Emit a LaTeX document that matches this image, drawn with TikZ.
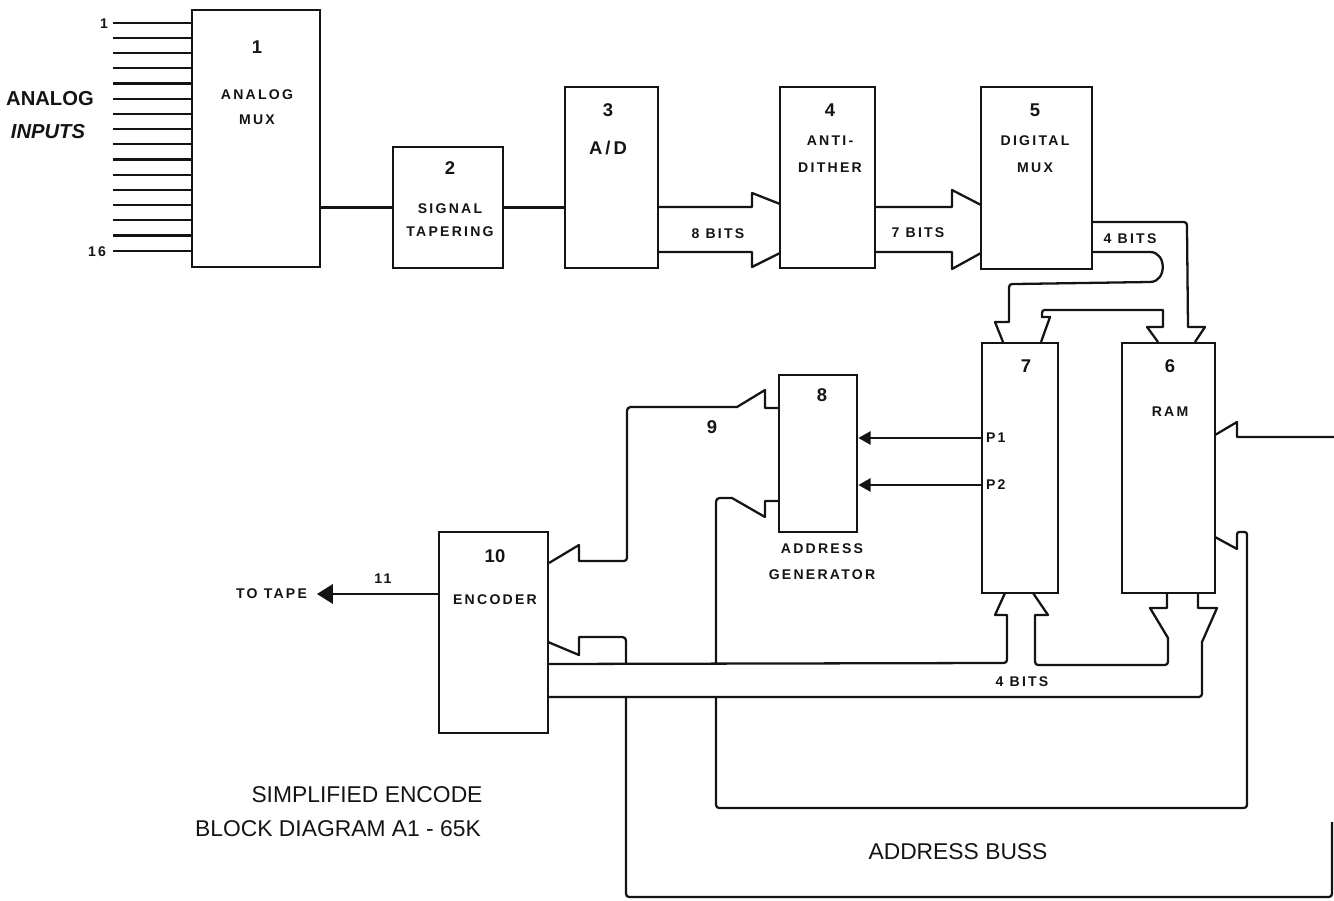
\documentclass[tikz,border=0pt]{standalone}
\usepackage{fontspec}
\setmainfont{Liberation Sans}
\newfontfamily\widefont{Liberation Sans}[LetterSpace=16]
\usepackage{tikz}
\usetikzlibrary{arrows.meta,calc,fit}
\usepackage{xcolor}
\definecolor{inkblack}{HTML}{141414}

\begin{document}
\begin{tikzpicture}[x=0.02cm, y=-0.02cm, inkblack,
          box/.style={draw=inkblack,line width=1.5pt,inner sep=0pt},
          num/.style={font=\fontsize{10.5}{11}\selectfont\bfseries},
          lbl/.style={font=\widefont\fontsize{8}{9}\selectfont\bfseries,inner sep=1pt},
          side/.style={font=\fontsize{11.5}{13}\selectfont\bfseries},
          caption/.style={font=\fontsize{13}{15}\selectfont},
          wire/.style={line width=1.3pt},
          bus/.style={line width=1.3pt,line join=round},
          ptr/.style={wire,-{Triangle[length=7pt,width=7.5pt]}},
          tapearr/.style={wire,-{Triangle[length=9pt,width=11pt]}}]
        \useasboundingbox (0,0) rectangle (1334,901);
        \node[box,fit={(192,10) (320,267)}] (mux) {};
        \node[box,fit={(393,147) (503,268)}] (taper) {};
        \node[box,fit={(565,87) (658,268)}] (adc) {};
        \node[box,fit={(780,87) (875,268)}] (anti) {};
        \node[box,fit={(981,87) (1092,269)}] (dmux) {};
        \node[box,fit={(1122,343) (1215,593)}] (ram) {};
        \node[box,fit={(982,343) (1058,593)}] (pbox) {};
        \node[box,fit={(779,375) (857,532)}] (agen) {};
        \node[box,fit={(439,532) (548,733)}] (enc) {};
        \node[num] at (257,47) {1};
        \node[lbl] at (257,95) {ANALOG};
        \node[lbl] at (257,120) {MUX};
        \node[num] at (450,168) {2};
        \node[lbl] at (450,209) {SIGNAL};
        \node[lbl] at (450,232) {TAPERING};
        \node[num] at (608,110) {3};
        \node[lbl,font=\widefont\fontsize{10.5}{11}\selectfont\bfseries] at (608,148) {A/D};
        \node[num] at (830,110) {4};
        \node[lbl] at (830,141) {ANTI-};
        \node[lbl] at (830,168) {DITHER};
        \node[num] at (1035,110) {5};
        \node[lbl] at (1035,141) {DIGITAL};
        \node[lbl] at (1035,168) {MUX};
        \node[num] at (1170,366) {6};
        \node[lbl] at (1170,412) {RAM};
        \node[num] at (1026,366) {7};
        \node[num] at (822,395) {8};
        \node[num] at (712,427) {9};
        \node[num] at (495,556) {10};
        \node[lbl] at (495,600) {ENCODER};
        \node[lbl] at (822,549) {ADDRESS};
        \node[lbl] at (822,575) {GENERATOR};
        \node[lbl,anchor=west] (pone) at (984,438) {P1};
        \node[lbl,anchor=west] (ptwo) at (984,485) {P2};
        \node[lbl,anchor=east,inner xsep=5.5pt] (tape) at (317,594) {TO TAPE};
        \node[lbl] at (383,579) {11};
        \node[side] at (50,99) {ANALOG};
        \node[side,font=\fontsize{11.5}{13}\selectfont\bfseries\itshape] at (48,132) {INPUTS};
        \node[lbl] at (104,24) {1};
        \node[lbl] at (97,252) {16};
        \node[lbl] at (718,234) {8 BITS};
        \node[lbl] at (918,233) {7 BITS};
        \node[lbl] at (1130,239) {4 BITS};
        \node[lbl] at (1022,682) {4 BITS};
        \node[caption] at (367,795) {SIMPLIFIED ENCODE};
        \node[caption] at (338,829) {BLOCK DIAGRAM A1 - 65K};
        \node[caption] at (958,852) {ADDRESS BUSS};
        \foreach \i in {0,...,15}
          \draw[wire] ($(mux.north west)+(0,{14+15.2*\i})$) -- ++(-78,0);
        \draw[wire] (mux.east |- taper.west) -- (taper.west);
        \draw[wire] (taper.east) -- (adc.west |- taper.east);
        \draw[ptr] (pbox.west |- pone.west) -- (agen.east |- pone.west);
        \draw[ptr] (pbox.west |- ptwo.west) -- (agen.east |- ptwo.west);
        \draw[tapearr] (enc.west |- tape.east) -- (tape.east);
        \draw[bus] (658,207) -- (752,207) -- (752,193) -- (780,204);
        \draw[bus] (658,252) -- (752,252) -- (752,267) -- (780,253);
        \draw[bus] (875,207) -- (952,207) -- (952,190) -- (981,205);
        \draw[bus] (875,252) -- (952,252) -- (952,269) -- (981,253);
        \draw[bus] (1092,222) -- (1180,222) .. controls (1187,222) .. (1187,229) -- (1188,327) -- (1205,327) -- (1195,342);
        \draw[bus] (1158,342) -- (1147,327) -- (1163,327) -- (1163,310) -- (1047,310) .. controls (1042,310) .. (1042,317) -- (1050,317) -- (1041,342);
        \draw[bus] (1003,342) -- (995,322) -- (1009,322) -- (1009,291) .. controls (1009,284) .. (1016,284) -- (1150,282) .. controls (1167,282) and (1167,252) .. (1150,252) -- (1092,252);
        \draw[bus] (548,664) -- (1000,663) .. controls (1007,663) .. (1007,656) -- (1007,615) -- (995,615) -- (1005,593);
        \draw[bus] (1033,593) -- (1048,615) -- (1035,615) -- (1035,658) .. controls (1035,665) .. (1042,665) -- (1161,665) .. controls (1168,665) .. (1168,658) -- (1168,638) -- (1150,608) -- (1167,608) -- (1167,593);
        \draw[bus] (1198,593) -- (1198,608) -- (1217,608) -- (1202,642) -- (1202,690) .. controls (1202,697) .. (1195,697) -- (548,697);
        \draw[bus] (1334,437) -- (1237,437) -- (1237,422) -- (1215,435);
        \draw[bus] (1215,537) -- (1237,549) -- (1237,537) .. controls (1237,532) .. (1242,532) .. controls (1247,532) .. (1247,538) -- (1247,801) .. controls (1247,808) .. (1240,808) -- (723,808) .. controls (716,808) .. (716,801) -- (716,697);
        \draw[bus] (716,663) -- (716,506) .. controls (716,498) .. (724,498) -- (732,498) -- (765,517) -- (765,501) -- (779,501);
        \draw[bus] (548,642) -- (579,655) -- (579,637) -- (618,637) .. controls (626,637) .. (626,645) -- (626,663);
        \draw[bus] (626,697) -- (626,890) .. controls (626,897) .. (633,897) -- (1325,897) .. controls (1332,897) .. (1332,890) -- (1332,822);
        \draw[bus] (779,408) -- (765,408) -- (765,390) -- (737,407) -- (635,407) .. controls (627,407) .. (627,415) -- (627,554) .. controls (627,561) .. (620,561) -- (579,561) -- (579,545) -- (549,563);
      \end{tikzpicture}
\end{document}
